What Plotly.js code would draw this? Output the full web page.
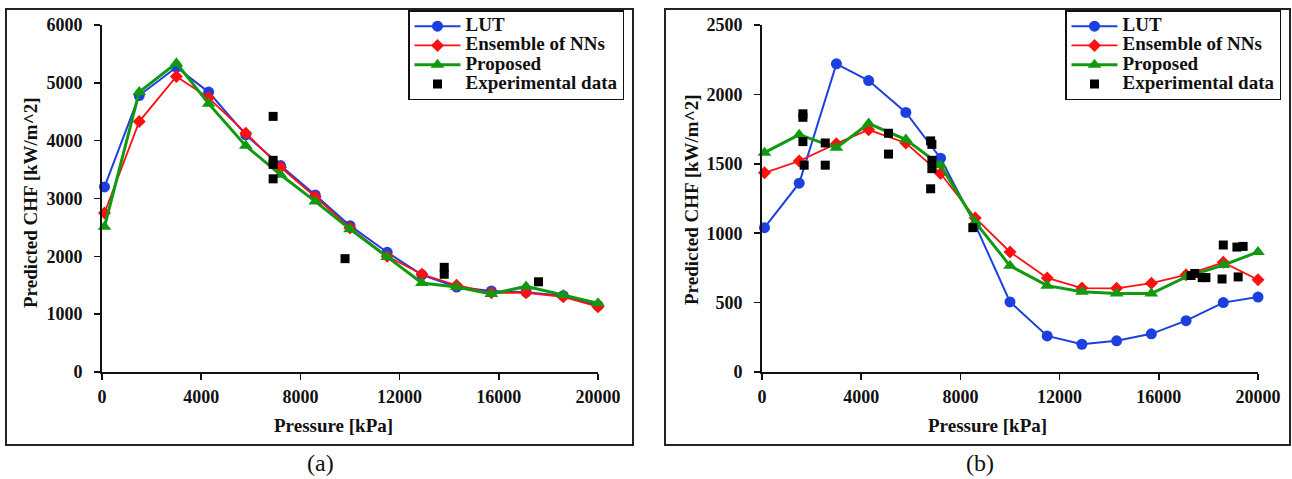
<!DOCTYPE html>
<html><head><meta charset="utf-8">
<script src="https://cdn.plot.ly/plotly-3.0.1.min.js"></script>
<style>html,body{margin:0;padding:0;background:#fff;} #chart{width:1292px;height:479px;}</style>
</head><body><div id="chart"></div>
<script>
// ---- data ----
const pressure = [100,1500,3000,4300,5800,7200,8600,10000,11500,12900,14300,15700,17100,18600,20000];
const lutA  = [3200,4780,5270,4840,4100,3570,3060,2530,2070,1680,1470,1400,1380,1320,1150];
const ensA  = [2750,4330,5110,4740,4130,3540,3030,2490,2000,1690,1500,1370,1370,1300,1130];
const propA = [2510,4840,5340,4640,3910,3410,2950,2470,1990,1540,1470,1350,1480,1330,1190];
const expPressureA = [6900,6900,6900,6900,9800,13800,13800,17600];
const expChfA      = [4420,3660,3590,3340,1960,1810,1690,1560];

const lutB  = [1040,1360,2220,2100,1870,1540,1060,505,260,200,225,275,370,500,540];
const ensB  = [1435,1520,1645,1745,1650,1430,1110,865,678,605,603,640,700,790,665];
const propB = [1580,1710,1615,1790,1675,1490,1080,765,622,578,565,565,685,770,865];
const expPressureB = [1650,1650,1650,1700,2550,2550,5100,5100,6800,6850,6850,6850,6800,8500,17300,17450,17750,17900,18550,19200,18600,19150,19400];
const expChfB      = [1860,1835,1660,1490,1650,1490,1720,1570,1665,1640,1525,1465,1320,1040,695,710,680,680,670,685,915,900,905];

const seriesNames = ['LUT','Ensemble of NNs','Proposed','Experimental data'];
const xTickVals = [0,4000,8000,12000,16000,20000];
const yTickValsA = [0,1000,2000,3000,4000,5000,6000];
const yTickValsB = [0,500,1000,1500,2000,2500];

// ---- styling ----
const W = 1292, H = 479;
const px = v => v / W, py = v => 1 - v / H;
const FONT = 'Liberation Serif, Times New Roman, serif';
const INK = '#111';
const colors = {lut:'#1c3fe0', ens:'#ff1010', prop:'#119911', exp:'#000'};
const legName = n => '<span style="font-size:19px">' + n + '</span>';

function panelTraces(xa, ya, leg, lut, ens, prop, expP, expC) {
  return [
    {x: pressure, y: lut, name: legName(seriesNames[0]), type:'scatter', mode:'lines+markers', xaxis:xa, yaxis:ya, legend:leg,
     line:{color:colors.lut, width:2}, marker:{symbol:'circle', size:11, color:colors.lut}, cliponaxis:false},
    {x: pressure, y: ens, name: legName(seriesNames[1]), type:'scatter', mode:'lines+markers', xaxis:xa, yaxis:ya, legend:leg,
     line:{color:colors.ens, width:1.8}, marker:{symbol:'diamond', size:10, color:colors.ens}, cliponaxis:false},
    {x: pressure, y: prop, name: legName(seriesNames[2]), type:'scatter', mode:'lines+markers', xaxis:xa, yaxis:ya, legend:leg,
     line:{color:colors.prop, width:3}, marker:{symbol:'triangle-up', size:12, color:colors.prop}, cliponaxis:false},
    {x: expP, y: expC, name: legName(seriesNames[3]), type:'scatter', mode:'markers', xaxis:xa, yaxis:ya, legend:leg,
     marker:{symbol:'square', size:9, color:colors.exp}, cliponaxis:false}
  ];
}

const data = [
  ...panelTraces('x','y','legend', lutA, ensA, propA, expPressureA, expChfA),
  ...panelTraces('x2','y2','legend2', lutB, ensB, propB, expPressureB, expChfB)
];

const tickFont = {family: FONT, size: 18, weight: 'bold', color: INK};
const xCommon = {range:[0,20000], tickvals:xTickVals, ticktext:xTickVals.map(String), showgrid:false, zeroline:false,
  showline:true, linecolor:INK, linewidth:2, ticks:'outside', ticklen:6, tickwidth:1.5, tickcolor:INK,
  tickfont:tickFont, ticklabelstandoff:1, fixedrange:true};
const yCommon = {showgrid:false, zeroline:false, showline:true, linecolor:INK, linewidth:2, ticks:'outside',
  ticklen:6, tickwidth:1.5, tickcolor:INK, tickfont:tickFont, ticklabelstandoff:8, fixedrange:true};
const yDom = [py(372), py(25)];

const legendCommon = {xanchor:'left', yanchor:'top', y:py(10), bgcolor:'#fff', bordercolor:INK, borderwidth:1.5,
  font:{family:FONT, size:12.5, weight:'bold', color:INK}, itemwidth:46, tracegroupgap:0};

const titleFont = {family: FONT, size: 19, weight: 'bold', color: INK};
const capFont = {family: FONT, size: 24, color: INK};

const layout = {
  width: W, height: H, autosize:false,
  margin:{l:0, r:0, t:0, b:0, pad:0},
  paper_bgcolor:'#fff', plot_bgcolor:'#fff',
  xaxis: Object.assign({domain:[px(102), px(598)], anchor:'y'}, xCommon),
  yaxis: Object.assign({domain:yDom, anchor:'x', range:[0,6000], tickvals:yTickValsA}, yCommon),
  xaxis2: Object.assign({domain:[px(762), px(1258)], anchor:'y2'}, xCommon),
  yaxis2: Object.assign({domain:yDom, anchor:'x2', range:[0,2500], tickvals:yTickValsB}, yCommon),
  legend: Object.assign({x:px(408)}, legendCommon),
  legend2: Object.assign({x:px(1065)}, legendCommon),
  showlegend:true,
  shapes:[
    {type:'rect', xref:'paper', yref:'paper', x0:px(6), x1:px(633), y0:py(445), y1:py(9), line:{color:'#222', width:2}, layer:'below'},
    {type:'rect', xref:'paper', yref:'paper', x0:px(665), x1:px(1290), y0:py(445), y1:py(9), line:{color:'#222', width:2}, layer:'below'}
  ],
  annotations:[
    {text:'Pressure [kPa]', xref:'paper', yref:'paper', x:px(333), y:py(425), xanchor:'center', yanchor:'middle', showarrow:false, font:titleFont},
    {text:'Pressure [kPa]', xref:'paper', yref:'paper', x:px(988), y:py(425), xanchor:'center', yanchor:'middle', showarrow:false, font:titleFont},
    {text:'Predicted CHF [kW/m^2]', xref:'paper', yref:'paper', x:px(31), y:py(203), xanchor:'center', yanchor:'middle', textangle:-90, showarrow:false, font:titleFont},
    {text:'Predicted CHF [kW/m^2]', xref:'paper', yref:'paper', x:px(691), y:py(200), xanchor:'center', yanchor:'middle', textangle:-90, showarrow:false, font:titleFont},
    {text:'(a)', xref:'paper', yref:'paper', x:px(320), y:py(463), xanchor:'center', yanchor:'middle', showarrow:false, font:capFont},
    {text:'(b)', xref:'paper', yref:'paper', x:px(980), y:py(463), xanchor:'center', yanchor:'middle', showarrow:false, font:capFont}
  ]
};

Plotly.newPlot('chart', data, layout, {displayModeBar:false, staticPlot:true});
</script>
</body></html>
